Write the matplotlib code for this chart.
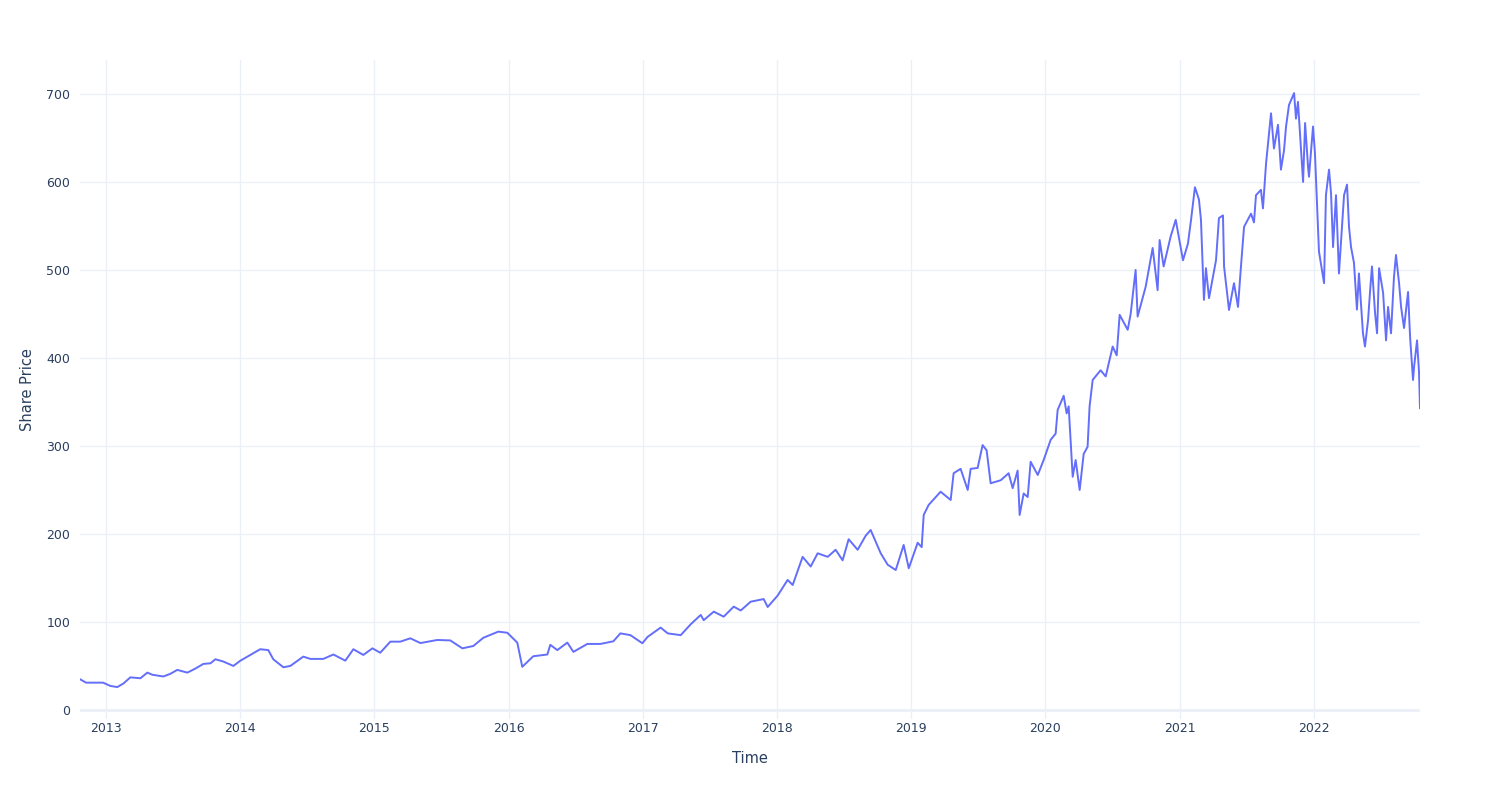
import datetime as dt
import matplotlib
matplotlib.use("Agg")
import matplotlib.pyplot as plt
import matplotlib.dates as mdates

# time as decimal years, price
years = [
    2012.806, 2012.851, 2012.978, 2013.030, 2013.082, 2013.127, 2013.179, 2013.254, 2013.306, 2013.343,
    2013.425, 2013.477, 2013.529, 2013.604, 2013.664, 2013.723, 2013.776, 2013.813, 2013.872, 2013.947,
    2014.000, 2014.074, 2014.148, 2014.208, 2014.245, 2014.320, 2014.372, 2014.469, 2014.521, 2014.618,
    2014.693, 2014.782, 2014.842, 2014.916, 2014.984, 2015.043, 2015.118, 2015.192, 2015.267, 2015.342,
    2015.468, 2015.565, 2015.655, 2015.737, 2015.811, 2015.923, 2015.990, 2016.065, 2016.102, 2016.184,
    2016.289, 2016.311, 2016.363, 2016.438, 2016.483, 2016.587, 2016.684, 2016.781, 2016.833, 2016.908,
    2016.997, 2017.034, 2017.131, 2017.184, 2017.281, 2017.355, 2017.430, 2017.452, 2017.527, 2017.601,
    2017.676, 2017.728, 2017.802, 2017.899, 2017.929, 2018.004, 2018.078, 2018.116, 2018.190, 2018.250,
    2018.302, 2018.377, 2018.436, 2018.488, 2018.533, 2018.600, 2018.660, 2018.697, 2018.772, 2018.824,
    2018.884, 2018.943, 2018.981, 2019.048, 2019.078, 2019.093, 2019.130, 2019.219, 2019.294, 2019.316,
    2019.368, 2019.421, 2019.443, 2019.495, 2019.532, 2019.562, 2019.592, 2019.667, 2019.726, 2019.756,
    2019.793, 2019.808, 2019.838, 2019.868, 2019.890, 2019.943, 2019.987, 2020.040, 2020.077, 2020.092,
    2020.137, 2020.159, 2020.174, 2020.204, 2020.226, 2020.256, 2020.286, 2020.315, 2020.330, 2020.353,
    2020.412, 2020.450, 2020.502, 2020.532, 2020.554, 2020.614, 2020.636, 2020.673, 2020.688, 2020.748,
    2020.800, 2020.837, 2020.852, 2020.882, 2020.934, 2020.972, 2021.024, 2021.061, 2021.084, 2021.113,
    2021.143, 2021.158, 2021.180, 2021.195, 2021.218, 2021.270, 2021.292, 2021.322, 2021.330, 2021.367,
    2021.404, 2021.434, 2021.456, 2021.479, 2021.531, 2021.553, 2021.568, 2021.605, 2021.620, 2021.643,
    2021.680, 2021.702, 2021.732, 2021.754, 2021.777, 2021.792, 2021.814, 2021.852, 2021.866, 2021.881,
    2021.904, 2021.919, 2021.934, 2021.956, 2021.963, 2021.993, 2022.008, 2022.023, 2022.038, 2022.076,
    2022.090, 2022.113, 2022.128, 2022.143, 2022.165, 2022.187, 2022.225, 2022.247, 2022.262, 2022.277,
    2022.299, 2022.321, 2022.336, 2022.366, 2022.381, 2022.404, 2022.418, 2022.433, 2022.456, 2022.471,
    2022.486, 2022.516, 2022.538, 2022.553, 2022.575, 2022.597, 2022.612, 2022.635, 2022.650, 2022.672,
    2022.702, 2022.717, 2022.739, 2022.747, 2022.769, 2022.784, 2022.791,
]
price = [
    34.9, 31, 31, 27.3, 26, 30, 37, 36, 42.4, 40,
    38, 41, 45.5, 42.4, 47, 52.3, 53, 57.6, 55, 50,
    56, 62.5, 69, 68, 57.6, 48.5, 50, 60.6, 58, 58,
    63, 56, 69, 62.5, 70, 65, 77.6, 77.6, 81.4, 76,
    79.5, 79, 70, 72.7, 82, 89, 87.7, 76.5, 49, 61,
    63, 74, 68, 76.5, 66, 75, 75, 78, 87, 85,
    75.8, 83, 93.6, 87, 85, 97.3, 108, 102, 111.7, 106,
    117.4, 113, 123, 126, 117, 130, 147.7, 142, 174, 163,
    178, 174, 182, 170, 194, 182, 198, 204.5, 178, 165,
    159, 187.5, 161, 190, 185, 221.6, 233, 248, 238.6, 269,
    274, 250, 274, 275, 301, 295, 257.6, 261, 269, 252,
    272, 221.6, 246, 242, 282, 267, 284, 307, 314, 341,
    357, 337, 345, 265, 284, 250, 291, 299, 345, 375,
    386, 379, 413, 403, 449, 432, 450, 500, 447, 481,
    525, 477, 534, 504, 538, 557, 511, 530, 557, 594,
    580, 557, 466, 502, 468, 511, 559, 562, 504, 454.5,
    485, 458, 504, 549, 564, 554, 585, 591, 570, 621,
    678, 638, 665, 614, 636, 663, 687.5, 701, 672, 691,
    636, 600, 667, 617, 606, 663, 633, 576, 521, 485,
    585, 614, 587, 526, 585, 496, 585, 597, 549, 526,
    508, 455, 496, 428, 413, 443, 474, 504, 451, 428,
    502, 474, 420, 458, 428, 492, 517, 485, 458, 434,
    475, 424, 375, 390, 420, 383, 343,
]


def to_date(y):
    base = dt.datetime(int(y), 1, 1)
    return base + dt.timedelta(days=(y - int(y)) * 365.25)


dates = [to_date(y) for y in years]

grid_c = "#EBF0F8"
text_c = "#2a3f5f"

fig = plt.figure(figsize=(15, 8), dpi=100)
ax = fig.add_axes([80 / 1500, 1 - 719 / 800, 1340 / 1500, 659 / 800])

ax.plot(dates, price, color="#636EFA", lw=1.4, zorder=3)

ax.set_xlim(dates[0], dates[-1])
ax.set_ylim(-10.3, 738.6)
ax.set_yticks(range(0, 701, 100))
ax.xaxis.set_major_locator(mdates.YearLocator())
ax.xaxis.set_major_formatter(mdates.DateFormatter("%Y"))

ax.grid(True, color=grid_c, lw=1)
ax.axhline(0, color=grid_c, lw=2, zorder=2)
for s in ax.spines.values():
    s.set_visible(False)
ax.tick_params(length=0, colors=text_c, labelsize=9)
ax.tick_params(axis="x", pad=2)
ax.tick_params(axis="y", pad=7)

ax.set_xlabel("Time", color=text_c, fontsize=10.5, labelpad=12)
ax.set_ylabel("Share Price", color=text_c, fontsize=10.5, labelpad=8)

fig.savefig("out.png", dpi=100)
